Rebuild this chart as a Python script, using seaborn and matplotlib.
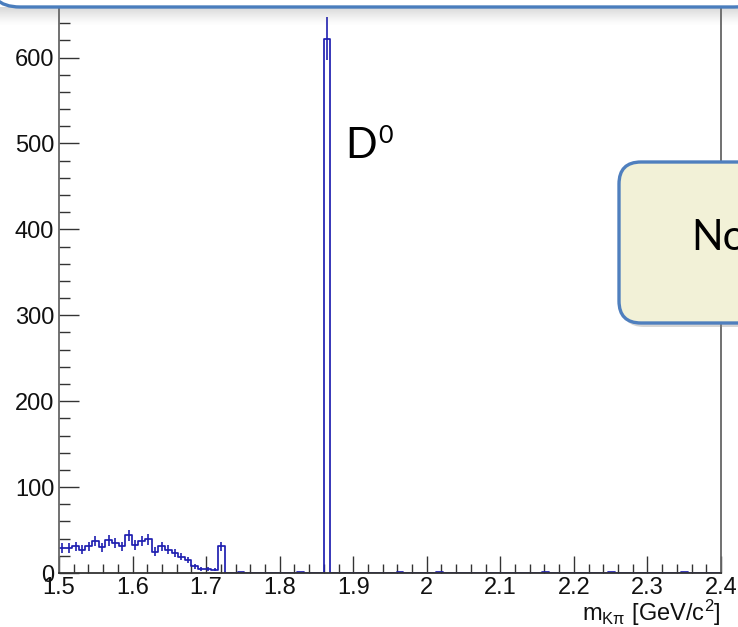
import numpy as np
import pandas as pd
import matplotlib
matplotlib.use("Agg")
import matplotlib.pyplot as plt
from matplotlib.patches import FancyBboxPatch
from matplotlib.transforms import IdentityTransform
from matplotlib.ticker import MultipleLocator
import seaborn as sns

# K-pi invariant mass spectrum, 100 bins between 1.5 and 2.4 GeV/c^2
mass_range = (1.5, 2.4)
n_bins = 100
counts = [
    29, 29, 31, 27, 31, 37, 30, 38, 35, 31,
    44, 33, 37, 39, 25, 31, 27, 23, 19, 15,
    8, 5, 5, 4, 31, 0, 0, 1, 0, 0,
    0, 0, 0, 0, 0, 0, 1, 0, 0, 0,
    622, 0, 0, 0, 0, 0, 0, 0, 0, 0,
    0, 1, 0, 0, 0, 0, 0, 1, 0, 0,
    0, 0, 0, 0, 0, 0, 0, 0, 0, 0,
    0, 0, 0, 1, 0, 0, 0, 0, 0, 0,
    0, 0, 0, 1, 0, 0, 0, 0, 0, 0,
    0, 0, 0, 0, 1, 0, 0, 0, 0, 0,
]
x_ticks = [1.5, 1.6, 1.7, 1.8, 1.9, 2.0, 2.1, 2.2, 2.3, 2.4]
x_tick_labels = ["1.5", "1.6", "1.7", "1.8", "1.9", "2", "2.1", "2.2", "2.3", "2.4"]
y_ticks = [0, 100, 200, 300, 400, 500, 600]
peak_label = "D"
peak_label_sup = "0"
callout_text = "No"

edges = np.linspace(mass_range[0], mass_range[1], n_bins + 1)
centers = 0.5 * (edges[:-1] + edges[1:])
df = pd.DataFrame({"mass": centers, "entries": np.array(counts, dtype=float)})

sns.set_style("ticks")
plt.rcParams["font.family"] = ["Liberation Sans", "DejaVu Sans"]
plt.rcParams["mathtext.fontset"] = "custom"
plt.rcParams["mathtext.rm"] = "Liberation Sans"
plt.rcParams["mathtext.it"] = "Liberation Sans:italic"

W, H = 738, 627
fig = plt.figure(figsize=(W / 100, H / 100), dpi=100)
fig.patch.set_facecolor("white")

# frame: x 1.5 -> px 59, 2.4 -> px 721 ; y 0 -> px 573, 660 -> px 6
ax_left, ax_right, ax_bottom, ax_top = 59, 721, 573, 6
ax = fig.add_axes([ax_left / W, 1 - ax_bottom / H,
                   (ax_right - ax_left) / W, (ax_bottom - ax_top) / H])
ax.set_facecolor("white")

hist_color = "#1f1fb0"
sns.histplot(data=df, x="mass", weights="entries", bins=edges.tolist(),
             element="step", fill=False, color=hist_color,
             linewidth=1.25, ax=ax)

vals = df["entries"].to_numpy()
mask = vals > 1
ax.errorbar(df["mass"][mask], vals[mask], yerr=np.sqrt(vals[mask]),
            fmt="none", ecolor=hist_color, elinewidth=1.2, capsize=0)

ax.set_xlim(*mass_range)
ax.set_ylim(0, 660)
ax.set_xticks(x_ticks)
ax.set_xticklabels(x_tick_labels)
ax.set_yticks(y_ticks)
ax.xaxis.set_minor_locator(MultipleLocator(0.02))
ax.yaxis.set_minor_locator(MultipleLocator(20))
ax.tick_params(axis="both", which="both", direction="in", colors="#333333",
               labelcolor="#111111", labelsize=17, width=1.0)
ax.tick_params(axis="x", which="major", length=12.5, pad=3)
ax.tick_params(axis="x", which="minor", length=6.5)
ax.tick_params(axis="y", which="major", length=14.5, pad=3.5)
ax.tick_params(axis="y", which="minor", length=8)
ax.tick_params(top=False, right=False, which="both")
for side in ["left", "right", "bottom", "top"]:
    ax.spines[side].set_visible(True)
    ax.spines[side].set_color("#666666")
    ax.spines[side].set_linewidth(1.3)
ax.spines["bottom"].set_color("#333333")

ax.set_ylabel("")
ax.set_xlabel(r"m$_{\mathregular{K\pi}}$ [GeV/c$^{\mathregular{2}}$]",
              fontsize=17, ha="right", color="#111111")
ax.xaxis.set_label_coords(1.0, -0.044)
ax.xaxis.label.set_va("top")

# peak annotation: "D" with a raised "0" placed right after it
d_text = ax.text(1.889, 483, peak_label, fontsize=30,
                 family=["Lato", "DejaVu Sans"],
                 ha="left", va="baseline", color="black")
fig.canvas.draw()
d_box = d_text.get_window_extent(renderer=fig.canvas.get_renderer())
sup_x, _ = ax.transData.inverted().transform((d_box.x1 + 1, d_box.y0))
ax.text(sup_x, 500, peak_label_sup, fontsize=18,
        family=["Lato", "DejaVu Sans"],
        ha="left", va="baseline", color="black")

# header box with soft shadow along its lower border
shadow_ax = fig.add_axes([0, 1 - 26 / H, 1, 19 / H])
shadow_ax.set_zorder(0.5)
shadow_ax.axis("off")
alpha = np.linspace(0.38, 0.0, 60) ** 1.3
grad = np.zeros((60, 1, 4))
grad[..., 0:3] = 0.45
grad[:, 0, 3] = alpha
shadow_ax.imshow(grad, aspect="auto", extent=(0, 1, 0, 1))

header = FancyBboxPatch((-12, H - 7), W + 40, 120,
                        boxstyle="round,pad=0,rounding_size=32",
                        transform=IdentityTransform(), fc="white",
                        ec="#4a7dbd", lw=2.4, zorder=3)
fig.add_artist(header)

# callout box on the right
cx, cy_top, cy_bot = 619, 162, 323
shadow = FancyBboxPatch((cx + 3, H - cy_bot - 4), 200, cy_bot - cy_top,
                        boxstyle="round,pad=0,rounding_size=22",
                        transform=IdentityTransform(), fc="#888888",
                        ec="none", alpha=0.35, zorder=3)
fig.add_artist(shadow)
callout = FancyBboxPatch((cx, H - cy_bot), 200, cy_bot - cy_top,
                         boxstyle="round,pad=0,rounding_size=22",
                         transform=IdentityTransform(), fc="#f2f1d7",
                         ec="#4f7fbe", lw=2.4, zorder=4)
fig.add_artist(callout)
fig.text(691 / W, 1 - 238 / H, callout_text, fontsize=30,
         family=["Lato", "DejaVu Sans"], ha="left", va="center",
         color="black", zorder=5)

fig.savefig("out.png", dpi=100)
